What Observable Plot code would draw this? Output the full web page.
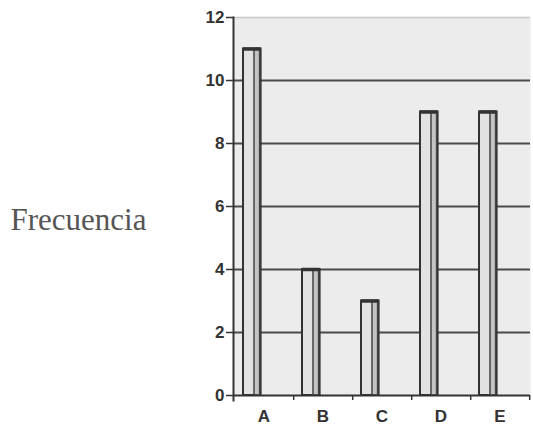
<!DOCTYPE html>
<html><head><meta charset="utf-8">
<script src="https://cdn.jsdelivr.net/npm/d3@7"></script>
<script src="https://cdn.jsdelivr.net/npm/@observablehq/plot@0.6"></script>
<style>
body{margin:0;background:#fff;} svg{display:block;}
g[aria-label$="tick label"], g[aria-label$="tick label"] text { font-size: 17px !important; font-weight: bold; }
</style>
</head><body><div id="chart"></div>
<script>
const categories = ["A", "B", "C", "D", "E"];
const frecuencia = [11, 4, 3, 9, 9];
const yTicks = [0, 2, 4, 6, 8, 10, 12];
const gridValues = [2, 4, 6, 8, 10];
const yLabel = "Frecuencia";

const data = categories.map((c, i) => ({cat: c, v: frecuencia[i]}));
const W = 533, H = 427, mL = 233, mR = 3;
const bw = (W - mL - mR) / categories.length;

const chart = Plot.plot({
  width: W, height: H,
  marginLeft: mL, marginRight: mR, marginTop: 17, marginBottom: 32,
  style: {fontFamily: "'Liberation Sans', Arial, sans-serif", fontSize: "17px", color: "#333", background: "#fff"},
  x: {domain: categories, padding: 0, axis: null},
  y: {domain: [0, 12], axis: null},
  marks: [
    Plot.frame({fill: "#ececec", stroke: null}),
    Plot.ruleY([12], {stroke: "#c8c8c8", strokeWidth: 1.5}),
    Plot.ruleY(gridValues, {stroke: "#4a4a4a", strokeWidth: 2}),
    Plot.barY(data, {x: "cat", y: "v", fill: "#e2e2e2", stroke: "#333", strokeWidth: 2, insetLeft: 9, insetRight: bw - 27}),
    Plot.barY(data, {x: "cat", y: "v", fill: "#c4c4c4", stroke: "#444", strokeWidth: 1.5, insetLeft: 20, insetRight: bw - 26}),
    Plot.tickY(data, {x: "cat", y: "v", stroke: "#333", strokeWidth: 3.5, insetLeft: 9, insetRight: bw - 27}),
    Plot.frame({anchor: "left", stroke: "#333", strokeWidth: 2, insetBottom: -5}),
    Plot.ruleY([0], {stroke: "#333", strokeWidth: 2}),
    Plot.axisY({ticks: yTicks, tickSize: 7, tickPadding: 2, label: null, stroke: "#333", strokeWidth: 1.5, fill: "#333", fontSize: 17, fontWeight: "bold"}),
    Plot.axisX({tickSize: 5, dx: bw / 2, tickFormat: () => "", label: null, stroke: "#333", strokeWidth: 1.5}),
    Plot.axisX({tickSize: 0, tickPadding: 14, label: null, fill: "#333", fontSize: 17, fontWeight: "bold"}),
    Plot.text([yLabel], {frameAnchor: "left", textAnchor: "start", dx: -223, dy: 14,
      fontFamily: "'Liberation Serif', 'Times New Roman', serif", fontSize: 31, fontWeight: "normal", fill: "#555"})
  ]
});
document.getElementById("chart").appendChild(chart);
</script></body></html>
